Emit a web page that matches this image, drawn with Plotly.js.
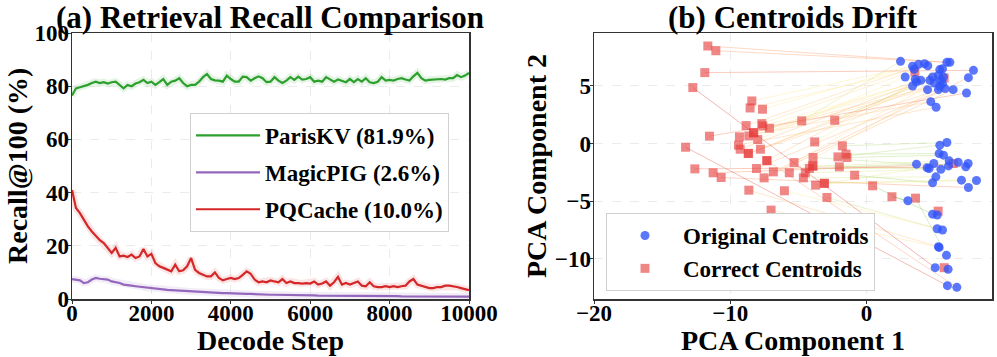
<!DOCTYPE html>
<html>
<head>
<meta charset="utf-8">
<script src="https://cdn.plot.ly/plotly-3.0.1.min.js"></script>
<style>
  html, body { margin: 0; padding: 0; background: #fff; }
  #chart { width: 997px; height: 357px; }
</style>
</head>
<body>
<div id="chart"></div>
<script>
// (a) smoothed recall curves, one value every 100 decode steps (0..10000)
const stepStart = 0;
const stepSize = 100;
const parisKV = [
    76.5, 79.2, 79.6, 80.0, 80.5, 81.2, 81.7, 81.2, 81.5, 81.0,
    81.5, 81.7, 80.5, 79.2, 80.5, 80.0, 81.0, 81.5, 82.4, 81.2,
    81.7, 80.5, 81.5, 82.7, 80.5, 81.7, 82.1, 83.0, 81.2, 80.0,
    80.5, 80.5, 81.7, 83.4, 84.6, 82.7, 82.2, 82.1, 81.7, 84.0,
    82.7, 81.7, 81.7, 83.6, 83.4, 82.1, 83.0, 83.7, 83.0, 81.5,
    81.7, 83.4, 82.1, 81.2, 82.1, 83.4, 82.4, 83.6, 82.5, 82.7,
    83.4, 81.7, 82.1, 81.7, 83.4, 82.7, 81.7, 82.5, 82.1, 81.5,
    82.7, 81.5, 82.7, 81.7, 83.0, 81.5, 81.2, 81.7, 83.4, 82.1,
    82.4, 82.1, 82.7, 83.0, 82.5, 82.1, 83.7, 85.0, 83.0, 82.1,
    82.4, 82.5, 82.4, 82.7, 82.5, 83.0, 83.0, 84.2, 83.4, 84.0, 85.0
];
const magicPIG = [
    7.5, 7.3, 7.0, 6.0, 6.3, 7.3, 7.9, 7.6, 7.5, 7.3,
    6.6, 6.3, 6.0, 5.4, 5.1, 5.0, 4.8, 4.6, 4.4, 4.2,
    4.1, 3.9, 3.7, 3.6, 3.4, 3.3, 3.2, 3.1, 3.0, 2.9,
    2.8, 2.7, 2.6, 2.6, 2.5, 2.4, 2.4, 2.3, 2.2, 2.2,
    2.1, 2.1, 2.0, 2.0, 1.9, 1.9, 1.8, 1.8, 1.7, 1.7,
    1.6, 1.6, 1.6, 1.5, 1.5, 1.5, 1.5, 1.4, 1.4, 1.4,
    1.4, 1.4, 1.3, 1.3, 1.3, 1.3, 1.3, 1.3, 1.2, 1.2,
    1.2, 1.2, 1.2, 1.2, 1.2, 1.1, 1.1, 1.1, 1.1, 1.1,
    1.1, 1.1, 1.1, 1.0, 1.0, 1.0, 1.0, 1.0, 1.0, 1.0,
    1.0, 1.0, 0.9, 0.9, 0.9, 0.9, 0.9, 0.9, 0.9, 0.9, 0.9
];
const pqCache = [
    41.0, 34.2, 32.3, 29.8, 27.3, 25.4, 23.6, 22.1, 21.0, 19.2,
    17.3, 19.2, 16.0, 16.3, 15.8, 16.7, 15.4, 16.0, 18.8, 16.0,
    17.0, 13.5, 12.3, 11.7, 11.0, 10.4, 12.9, 10.4, 10.8, 12.3,
    15.4, 11.0, 9.8, 9.1, 8.5, 8.5, 10.0, 7.9, 7.0, 7.5,
    7.9, 7.5, 7.9, 9.1, 10.4, 9.5, 7.3, 6.3, 6.6, 6.3,
    7.0, 6.6, 6.3, 7.5, 6.0, 6.6, 6.0, 6.0, 5.8, 6.0,
    5.8, 6.6, 5.4, 5.8, 6.6, 5.0, 6.3, 8.3, 5.4, 6.0,
    5.4, 6.0, 6.6, 5.0, 4.8, 6.3, 4.8, 4.5, 4.5, 4.8,
    4.5, 4.8, 4.5, 4.8, 5.0, 6.6, 7.5, 5.4, 5.0, 4.5,
    4.1, 4.1, 4.5, 4.5, 5.0, 5.0, 4.8, 4.5, 4.1, 3.8, 3.3
];
const seriesNames = ['ParisKV (81.9%)', 'MagicPIG (2.6%)', 'PQCache (10.0%)'];

// (b) centroid pairs: original (blue) -> corrected (red), same index = same pair
const origX = [
    2.49, 2.83, 3.37, 3.49, 3.81, 4.25, 4.49, 3.57, 3.66, 3.37, 3.98, 4.47, 4.71, 5.10, 4.84, 4.64,
    4.96, 5.27, 5.37, 5.57, 5.45, 5.57, 5.27, 5.76, 5.89, 6.11, 6.35, 7.33, 7.47, 7.84, 5.64, 5.37,
    5.89, 5.37, 5.32, 5.64, 3.66, 4.44, 4.59, 4.93, 5.45, 5.08, 4.84, 6.01, 6.06, 6.72, 7.28, 7.45,
    6.96, 7.47, 8.06, 3.03, 4.84, 5.18, 5.18, 5.57, 5.27, 5.32, 5.86, 5.03, 5.98, 5.93, 6.62
];
const origY = [
    7.14, 5.78, 6.71, 6.45, 6.88, 6.94, 6.76, 5.58, 5.35, 5.00, 5.49, 4.68, 3.64, 3.15, 5.78, 5.49,
    5.26, 5.92, 6.42, 6.50, 5.49, 5.20, 4.68, 4.77, 7.05, 7.05, 4.68, 4.39, 5.72, 6.36, 5.78, 4.97,
    0.09, -0.14, -0.87, -1.01, -1.79, -2.11, -2.17, -1.73, -2.23, -2.89, -3.41, -1.94, -1.50, -1.62, -2.02, -1.73,
    -3.18, -3.82, -3.21, -4.97, -6.13, -6.21, -7.40, -7.51, -8.96, -9.02, -9.71, -10.78, -10.92, -12.34, -12.49
];
const corrX = [
    -4.76, -7.99, -8.42, -8.55, -7.64, -8.84, -7.69, 3.54, -7.62, -7.13, -8.30, -8.64, -9.33, -9.40, -9.28, -7.79,
    -8.69, -2.34, -3.81, -7.33, 5.69, -8.28, -8.66, -8.08, -11.65, -11.06, -7.52, -11.53, -6.84, -11.87, -5.32, -5.67,
    -1.78, -2.10, -1.51, -1.44, -3.93, -3.96, -4.20, -2.00, -4.50, -4.64, -0.88, 6.35, -3.93, -3.74, -12.60, -11.26,
    -3.11, -10.67, -3.09, 1.86, 0.44, 5.25, -2.91, -6.03, -8.64, -7.01, 3.59, -12.75, 5.69, -13.28, -7.30
];
const corrY = [
    1.97, 0.35, 3.70, 3.09, 2.98, 1.56, 1.73, 6.21, 1.53, 1.33, 0.92, 0.66, 0.58, -0.14, -0.49, -0.49,
    -0.87, 2.02, 0.14, -1.47, 5.69, 0.95, -0.85, -2.17, 8.47, 8.06, -2.98, 0.64, -2.46, 6.16, -1.65, -2.54,
    -0.20, -1.16, -0.92, -1.21, -1.21, -1.94, -2.17, -2.02, -2.54, -2.98, -2.75, -1.73, -1.98, -3.61, -2.20, -2.54,
    -3.44, -2.95, -3.47, -4.62, -3.67, -5.87, -4.68, -4.10, -4.05, -5.78, -4.74, 4.86, -10.78, -0.32, -1.50
];

const FONT = 'Liberation Serif, Times New Roman, serif';
const W = 997, H = 357;
const M = { l: 0, r: 0, t: 33, b: 58 };
const plotH = H - M.t - M.b;
const px = v => v / W;
const py = v => (H - M.b - v) / plotH;

// red-yellow-green (reversed) ramp for drift length
function driftColor(t) {
    const stops = [[26, 152, 80], [145, 207, 96], [255, 235, 140], [252, 141, 89], [215, 48, 39]];
    const s = Math.min(0.9999, Math.max(0, t)) * (stops.length - 1);
    const i = Math.floor(s), f = s - i;
    const c = stops[i].map((v, k) => Math.round(v + (stops[i + 1][k] - v) * f));
    return `rgba(${c[0]},${c[1]},${c[2]},0.35)`;
}

const traces = [];
const lineColors = ['#2ca02c', '#9467bd', '#d62728'];
[parisKV, magicPIG, pqCache].forEach((ys, i) => {
    // faint halo standing in for the raw per-step values
    traces.push({
        y: ys, x0: stepStart, dx: stepSize, type: 'scatter', mode: 'lines',
        line: { color: lineColors[i], width: 7 }, opacity: 0.12,
        showlegend: false, hoverinfo: 'skip', xaxis: 'x', yaxis: 'y'
    });
});
[parisKV, magicPIG, pqCache].forEach((ys, i) => {
    traces.push({
        y: ys, x0: stepStart, dx: stepSize, type: 'scatter', mode: 'lines',
        name: seriesNames[i], legendgroup: 'g' + i,
        line: { color: lineColors[i], width: 2.2 },
        xaxis: 'x', yaxis: 'y', legend: 'legend'
    });
});

const dists = origX.map((x, i) => Math.hypot(x - corrX[i], origY[i] - corrY[i]));
const maxD = Math.max(...dists);
origX.forEach((x, i) => {
    traces.push({
        x: [x, corrX[i]], y: [origY[i], corrY[i]], type: 'scatter', mode: 'lines',
        line: { color: driftColor(dists[i] / maxD), width: 1 },
        showlegend: false, hoverinfo: 'skip', xaxis: 'x2', yaxis: 'y2'
    });
});
traces.push({
    x: corrX, y: corrY, type: 'scatter', mode: 'markers', name: 'Correct Centroids',
    marker: { symbol: 'square', size: 9, color: 'rgba(230,55,55,0.6)', line: { width: 0 } },
    xaxis: 'x2', yaxis: 'y2', legend: 'legend2', legendrank: 2
});
traces.push({
    x: origX, y: origY, type: 'scatter', mode: 'markers', name: 'Original Centroids',
    marker: { symbol: 'circle', size: 9, color: 'rgba(50,85,250,0.8)', line: { width: 0 } },
    xaxis: 'x2', yaxis: 'y2', legend: 'legend2', legendrank: 1
});

const tickFont = { family: FONT, size: 23, color: '#000', weight: 'bold' };
const axisBase = {
    showline: true, mirror: true, linecolor: '#333', linewidth: 1.5,
    ticks: 'outside', ticklen: 3, tickcolor: '#333',
    showgrid: true, gridcolor: '#e6e6e6', griddash: 'dash', gridwidth: 0.8,
    zeroline: false, tickfont: tickFont, automargin: false
};
const xBase = Object.assign({}, axisBase, { ticklabelstandoff: -10, tickformat: 'd' });
const yBase = Object.assign({}, axisBase, { ticklabelstandoff: -6 });
const titleFont = { family: FONT, size: 31, color: '#000', weight: 'bold' };
const labelFont = { family: FONT, size: 28, color: '#000', weight: 'bold' };
const legendFont = { family: FONT, size: 23, color: '#000', weight: 'bold' };

const layout = {
    width: W, height: H,
    margin: M,
    paper_bgcolor: '#fff', plot_bgcolor: '#fff',
    showlegend: true,
    xaxis: Object.assign({}, xBase, { domain: [px(72), px(469)], range: [0, 10000], dtick: 2000, anchor: 'y' }),
    yaxis: Object.assign({}, yBase, { range: [0, 100], dtick: 20, anchor: 'x' }),
    xaxis2: Object.assign({}, xBase, { domain: [px(594), px(992)], range: [-20, 9.2], dtick: 10, anchor: 'y2' }),
    yaxis2: Object.assign({}, yBase, { range: [-13.5, 9.6], dtick: 5, anchor: 'x2' }),
    legend: {
        x: px(190), y: py(113), xanchor: 'left', yanchor: 'top',
        bgcolor: '#fff', bordercolor: '#d0d0d0', borderwidth: 1,
        font: legendFont, itemwidth: 64, traceorder: 'grouped', tracegroupgap: 4
    },
    legend2: {
        x: px(606), y: py(213), xanchor: 'left', yanchor: 'top',
        bgcolor: '#fff', bordercolor: '#d0d0d0', borderwidth: 1,
        font: legendFont, itemwidth: 66, tracegroupgap: 4
    },
    annotations: [
        { text: '(a) Retrieval Recall Comparison', x: px(270), y: py(17), font: titleFont },
        { text: '(b) Centroids Drift', x: px(793), y: py(17), font: titleFont },
        { text: 'Decode Step', x: px(270), y: py(340), font: labelFont },
        { text: 'PCA Component 1', x: px(793), y: py(340), font: labelFont },
        { text: 'Recall@100 (%)', x: px(17), y: py(166), font: labelFont, textangle: -90 },
        { text: 'PCA Component 2', x: px(536), y: py(166), font: labelFont, textangle: -90 }
    ].map(a => Object.assign({ xref: 'paper', yref: 'paper', showarrow: false, xanchor: 'center', yanchor: 'middle' }, a))
};

Plotly.newPlot('chart', traces, layout, { displayModeBar: false, staticPlot: true });
</script>
</body>
</html>
